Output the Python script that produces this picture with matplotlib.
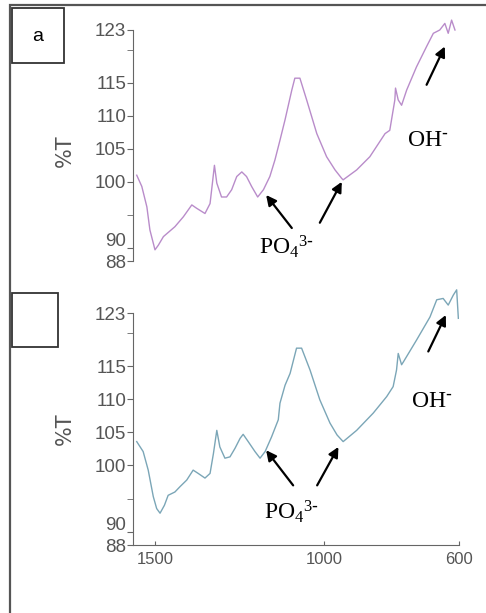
import matplotlib
matplotlib.use("Agg")
import matplotlib.pyplot as plt
from matplotlib.patches import Rectangle
from matplotlib.transforms import ScaledTranslation

plt.rcParams['font.family'] = ['Liberation Sans', 'DejaVu Sans']
plt.rcParams['mathtext.default'] = 'regular'

# spectrum a (purple): wavenumber (cm-1) vs %T
wn_a = [1554, 1539, 1524, 1515, 1500, 1490, 1475, 1441, 1416, 1391, 1377, 1352,
        1337, 1330, 1324, 1317, 1303, 1288, 1273, 1258, 1243, 1229, 1214, 1196,
        1179, 1160, 1145, 1130, 1115, 1095, 1086, 1071, 1051, 1021, 992, 967,
        947, 943, 903, 864, 819, 805, 790, 788, 780, 770, 755, 726, 696, 676,
        657, 642, 632, 622, 612]
t_a = [101.0, 99.3, 96.2, 92.7, 89.7, 90.4, 91.7, 93.2, 94.7, 96.5, 96.0, 95.2,
       96.7, 99.8, 102.5, 99.8, 97.7, 97.7, 98.8, 100.8, 101.5, 100.8, 99.3, 97.7,
       98.8, 100.8, 103.3, 106.3, 109.4, 113.9, 115.7, 115.7, 112.4, 107.3, 103.8, 101.8,
       100.5, 100.3, 101.8, 103.8, 107.3, 107.8, 112.4, 114.2, 112.4, 111.6, 113.9, 117.4,
       120.5, 122.5, 123.0, 124.0, 122.5, 124.5, 123.0]

# spectrum b (blue)
wn_b = [1554, 1535, 1520, 1505, 1495, 1485, 1472, 1461, 1441, 1426, 1406, 1387,
        1372, 1352, 1337, 1327, 1317, 1308, 1293, 1278, 1263, 1248, 1239, 1224,
        1204, 1189, 1174, 1155, 1135, 1130, 1115, 1100, 1081, 1066, 1041, 1012,
        982, 961, 943, 903, 854, 814, 795, 785, 780, 770, 765, 726, 686, 666,
        647, 632, 617, 607, 602]
t_b = [103.6, 102.1, 99.3, 95.3, 93.5, 92.8, 94.0, 95.5, 96.0, 96.8, 97.8, 99.3,
       98.8, 98.1, 98.8, 101.8, 105.3, 102.8, 101.1, 101.3, 102.6, 104.1, 104.7, 103.6,
       102.1, 101.1, 102.1, 104.3, 106.9, 109.4, 112.1, 113.9, 117.7, 117.7, 114.4, 109.9,
       106.4, 104.6, 103.6, 105.3, 107.9, 110.4, 111.9, 114.4, 116.9, 115.2, 115.6, 118.9,
       122.4, 125.0, 125.2, 124.2, 125.7, 126.5, 122.2]

ytick_vals = [88, 90, 100, 105, 110, 115, 123]
ytick_labels = ['88', '90', '100', '105', '110', '115', '123']
ytick_minor = [95, 120]
xtick_vals = [1500, 1000, 600]
xtick_labels = ['1500', '1000', '600']

axis_col = '#666666'
text_col = '#555555'

fig = plt.figure(figsize=(4.86, 6.13), dpi=100)

ax1 = fig.add_axes([0.2737, 0.5742, 0.6708, 0.3984])
ax2 = fig.add_axes([0.2737, 0.1109, 0.6708, 0.4217])

ax1.plot(wn_a, t_a, color='#b98cca', lw=1.0)
ax2.plot(wn_b, t_b, color='#7ba6b7', lw=1.0)

ax1.set_ylim(88, 125)
ax2.set_ylim(88, 127)

for ax in (ax1, ax2):
    ax.set_xlim(1565, 600)
    for s in ('top', 'right'):
        ax.spines[s].set_visible(False)
    ax.spines['left'].set_bounds(88, 123)
    ax.spines['left'].set_color(axis_col)
    ax.spines['bottom'].set_color(axis_col)
    ax.set_yticks(ytick_vals)
    ax.set_yticklabels(ytick_labels)
    ax.set_yticks(ytick_minor, minor=True)
    ax.tick_params(axis='y', which='both', direction='out', length=4,
                   color=axis_col, labelcolor=text_col, labelsize=13.5, pad=1)
    # keep the crowded 90 / 88 labels apart
    labs = ax.get_yticklabels()
    labs[1].set_transform(labs[1].get_transform() + ScaledTranslation(0, 6 / 72, fig.dpi_scale_trans))
    ax.set_ylabel('%T', fontsize=15, color=text_col, family='DejaVu Sans')
    ax.yaxis.set_label_coords(-0.178, 0.45)
    ax.patch.set_alpha(0)

ax1.spines['bottom'].set_visible(False)
ax1.set_xticks([])

ax2.set_xticks(xtick_vals)
ax2.set_xticklabels(xtick_labels)
ax2.tick_params(axis='x', direction='in', length=3, color=axis_col,
                labelcolor=text_col, labelsize=12, pad=5)

ann = dict(fontsize=17, family='Liberation Serif', color='black', ha='center', va='center')
arrow = dict(arrowstyle='-|>,head_length=0.6,head_width=0.3', color='black', lw=1.6,
             shrinkA=0, shrinkB=0)
po4 = r'PO$_4$$^{3\text{-}}$'
oh = r'OH$^{\text{-}}$'

# panel a
ax1.text(1112, 90.2, po4, **ann)
ax1.text(692, 106.3, oh, **ann)
ax1.annotate('', xy=(1171, 98.0), xytext=(1095, 93.0), arrowprops=arrow)
ax1.annotate('', xy=(947, 100.0), xytext=(1012, 93.8), arrowprops=arrow)
ax1.annotate('', xy=(642, 120.5), xytext=(696, 114.7), arrowprops=arrow)

# panel b
ax2.text(1097, 93.0, po4, **ann)
ax2.text(680, 109.6, oh, **ann)
ax2.annotate('', xy=(1171, 102.3), xytext=(1091, 97.0), arrowprops=arrow)
ax2.annotate('', xy=(957, 102.8), xytext=(1020, 97.0), arrowprops=arrow)
ax2.annotate('', xy=(639, 122.7), xytext=(691, 117.2), arrowprops=arrow)

# outer frame and label boxes
fig.add_artist(Rectangle((10 / 486, -0.05), 1.1, 1 - 5 / 613 + 0.05,
                         transform=fig.transFigure, fill=False, ec='#555555', lw=1.6))
fig.add_artist(Rectangle((0.0247, 0.8972), 0.107, 0.0897, transform=fig.transFigure,
                         fill=False, ec='#333333', lw=1.3))
fig.add_artist(Rectangle((0.0247, 0.4339), 0.0947, 0.0881, transform=fig.transFigure,
                         fill=False, ec='#333333', lw=1.3))
fig.text(0.078, 0.941, 'a', fontsize=14, family='Liberation Sans', ha='center', va='center')

fig.savefig('out.png', dpi=100)
